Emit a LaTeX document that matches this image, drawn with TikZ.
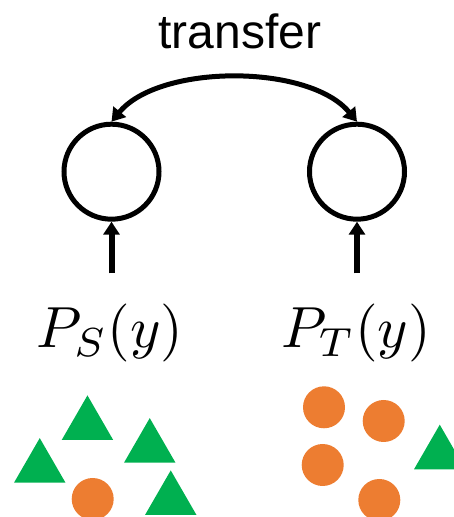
\documentclass[tikz,border=0pt]{standalone}
\usepackage{fontspec}
\newfontfamily\labelfont{Liberation Sans}
\usepackage{xcolor}
\definecolor{officegreen}{RGB}{0, 176, 80}
\definecolor{officeorange}{RGB}{237, 125, 49}
\usetikzlibrary{arrows.meta}

\begin{document}
\begin{tikzpicture}[x=1pt, y=1pt,
    modelnode/.style={circle, draw, line width=5pt, minimum size=95pt, inner sep=0pt},
    feed/.style={line width=6pt, -{Triangle[length=13pt, width=16pt]}},
    share/.style={line width=5pt, {Triangle[length=13pt, width=16pt]}-{Triangle[length=13pt, width=16pt]}},
    dist/.style={scale=5.8, transform shape, anchor=base, inner sep=0pt},
    tri/.style={fill=officegreen},
    dot/.style={fill=officeorange}]
    \useasboundingbox (0, 0) rectangle (454, 517);

    % Source and target models
    \node[modelnode] (src) at (111.5, 345.3) {};
    \node[modelnode] (tgt) at (357, 345.3) {};

    % Transfer between the two
    \node[font=\labelfont\fontsize{48}{48}\selectfont, anchor=base, inner sep=0pt] (move) at (240, 468) {transfer};
    \draw[share] (src.north) .. controls +(48, 58) and +(-48, 58) .. (tgt.north);

    % Label distributions
    \node[dist] (ps) at (110, 169) {$P_S(y)$};
    \node[dist] (pt) at (356, 169) {$P_T(y)$};
    \coordinate (sfoot) at (111.5, 243.7);
    \coordinate (tfoot) at (357, 243.7);
    \draw[feed] (sfoot) -- (src.south);
    \draw[feed] (tfoot) -- (tgt.south);

    % Source samples: mostly triangles
    \fill[tri] (61.7, 77) -- ++(51.5, 0) -- ++(-25.75, 44.6) -- cycle;
    \fill[tri] (124, 54.3) -- ++(51.5, 0) -- ++(-25.75, 44.6) -- cycle;
    \fill[tri] (14, 34.3) -- ++(51.5, 0) -- ++(-25.75, 44.6) -- cycle;
    \fill[tri] (145, 2) -- ++(51.5, 0) -- ++(-25.75, 44.6) -- cycle;
    \fill[dot] (92.7, 18) circle (21);

    % Target samples: mostly circles
    \fill[dot] (324, 109.7) circle (21);
    \fill[dot] (383.7, 96) circle (21);
    \fill[dot] (322.7, 52) circle (21);
    \fill[dot] (379.3, 17) circle (21);
    \fill[tri] (414, 47.7) -- ++(51.5, 0) -- ++(-25.75, 44.6) -- cycle;
\end{tikzpicture}
\end{document}
